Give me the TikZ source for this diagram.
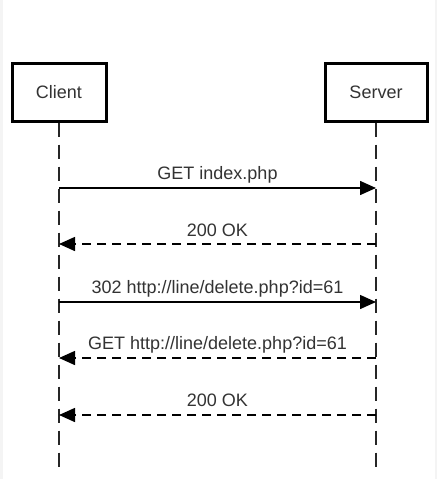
\documentclass[tikz,border=0pt]{standalone}
\usepackage{fontspec}
\setmainfont{Liberation Sans}
\usetikzlibrary{arrows.meta}
\definecolor{txt}{HTML}{333333}
\definecolor{edge}{HTML}{F4F4F4}
\tikzset{
  actor/.style={draw=black, line width=3pt, fill=white, minimum height=58pt, text=txt,
    font=\fontsize{18}{20}\selectfont, inner sep=0pt},
  lifeline/.style={draw=black!85, line width=2pt, dash pattern=on 14pt off 8pt},
  req/.style={draw=black, line width=1.5pt, -{Triangle[length=16pt,width=14pt]}},
  resp/.style={draw=black, line width=1.5pt, dash pattern=on 9pt off 6pt, -{Triangle[length=16pt,width=14pt]}},
  msglabel/.style={anchor=base, yshift=8.5pt, text=txt, font=\fontsize{18}{20}\selectfont, inner sep=0pt}
}
\begin{document}
\begin{tikzpicture}[x=1pt, y=-1pt]
\useasboundingbox (0,0) rectangle (437,479);
\fill[edge] (0,0) rectangle (437,479);
\fill[white] (3,0) rectangle (435,479);
\node[actor, minimum width=94pt] (client) at (59,92) {Client};
\node[actor, minimum width=102pt] (server) at (376,92) {Server};
\coordinate (cend) at (59,473);
\coordinate (send) at (376,473);
\draw[lifeline] (client.south) -- (cend);
\draw[lifeline] (server.south) -- (send);
\foreach \i/\y in {1/188,2/244,3/302,4/358,5/415}{
  \coordinate (c\i) at (59,\y);
  \coordinate (s\i) at (376,\y);
}
\draw[req] (c1) -- node[msglabel] {GET index.php} (s1);
\draw[resp] (s2) -- node[msglabel, yshift=-1pt] {200 OK} (c2);
\draw[req] (c3) -- node[msglabel] {302 http://line/delete.php?id=61} (s3);
\draw[resp] (s4) -- node[msglabel] {GET http://line/delete.php?id=61} (c4);
\draw[resp] (s5) -- node[msglabel] {200 OK} (c5);
\end{tikzpicture}
\end{document}
